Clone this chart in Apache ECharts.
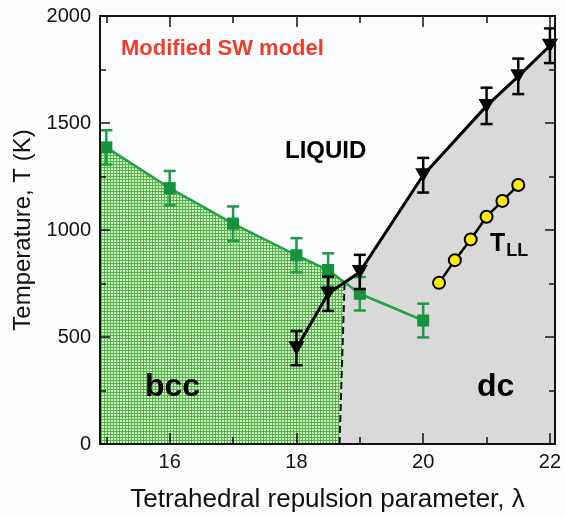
<!DOCTYPE html>
<html>
<head>
<meta charset="utf-8">
<script src="https://cdn.jsdelivr.net/npm/echarts@6/dist/echarts.min.js"></script>
<style>
html,body{margin:0;padding:0;background:#fbfcfd;}
#chart{width:565px;height:518px;}
</style>
</head>
<body>
<div id="chart"></div>
<script>
// ---- data ----
const xMajorTicks = [16, 18, 20, 22];
const xMinorTicks = [15, 17, 19, 21];
const bccX = [15, 16, 17, 18, 18.5, 19, 20];
const bccT = [1386, 1196, 1030, 882, 813, 702, 577];
const bccErr = [80, 80, 80, 80, 78, 78, 79];
const dcX = [18, 18.5, 19, 20, 21, 21.5, 22];
const dcT = [448, 702, 804, 1256, 1580, 1718, 1861];
const dcErr = [80, 80, 80, 81, 85, 83, 81];
const tllX = [20.25, 20.5, 20.75, 21, 21.25, 21.5];
const tllT = [753, 859, 956, 1062, 1136, 1210];
const dashX = [18.68, 18.76];
const dashT = [0, 760];
const bccRegion = [[14.9, 1405], [15, 1386], [16, 1196], [17, 1030], [18, 882], [18.5, 813], [18.76, 760], [18.68, 0], [14.9, 0]];
const dcRegion = [[18.68, 0], [18.76, 760], [19, 804], [20, 1256], [21, 1580], [21.5, 1718], [22, 1861], [22.08, 1875], [22.08, 0]];

const X_MIN = 14.9, X_MAX = 22.08;
const FONT = '"Liberation Sans", Arial, Helvetica, sans-serif';

// checker pattern for bcc region
const pc = document.createElement('canvas');
pc.width = 3; pc.height = 3;
const pctx = pc.getContext('2d');
pctx.fillStyle = '#52b64e'; pctx.fillRect(0, 0, 3, 3);
pctx.fillStyle = '#d6efc2'; pctx.fillRect(0, 0, 2, 2);
const checker = { image: pc, repeat: 'repeat' };

const chart = echarts.init(document.getElementById('chart'), null, { renderer: 'canvas' });

function xAxisDef(pos, ticks, len, withLabel) {
  return {
    type: 'value', min: X_MIN, max: X_MAX, position: pos, z: 30,
    axisLine: { show: true, onZero: false, lineStyle: { color: '#111', width: 2 } },
    axisTick: { show: true, inside: true, length: len, customValues: ticks, lineStyle: { color: '#111', width: 1.5 } },
    axisLabel: withLabel ? { show: true, customValues: ticks, fontSize: 20, color: '#111', margin: 8, fontFamily: FONT } : { show: false },
    splitLine: { show: false }
  };
}
function yAxisDef(pos, withLabel) {
  return {
    type: 'value', min: 0, max: 2000, interval: 500, position: pos, z: 30,
    axisLine: { show: true, onZero: false, lineStyle: { color: '#111', width: 2 } },
    axisTick: { show: true, inside: true, length: 10, lineStyle: { color: '#111', width: 1.5 } },
    minorTick: { show: true, splitNumber: 2, length: 6, lineStyle: { color: '#111', width: 1.5 } },
    axisLabel: withLabel ? { show: true, fontSize: 20, color: '#111', margin: 9, fontFamily: FONT, formatter: v => String(v) } : { show: false },
    splitLine: { show: false }, minorSplitLine: { show: false }
  };
}

const xb = xAxisDef('bottom', xMajorTicks, 11, true);
xb.name = 'Tetrahedral repulsion parameter, \u03bb';
xb.nameLocation = 'middle';
xb.nameGap = 43;
xb.nameTextStyle = { fontSize: 26, color: '#111', fontFamily: FONT };
const yl = yAxisDef('left', true);
yl.name = 'Temperature, T (K)';
yl.nameLocation = 'middle';
yl.nameGap = 57;
yl.nameTextStyle = { fontSize: 24, color: '#111', fontFamily: FONT };

function errBars(xs, ts, es) {
  return xs.map((x, i) => [x, ts[i] - es[i], ts[i] + es[i]]);
}
function errRender(color) {
  return function (params, api) {
    const x = api.value(0);
    const lo = api.coord([x, api.value(1)]);
    const hi = api.coord([x, api.value(2)]);
    const w = 6;
    const st = { stroke: color, lineWidth: 2.5 };
    return {
      type: 'group', children: [
        { type: 'line', shape: { x1: lo[0], y1: lo[1], x2: hi[0], y2: hi[1] }, style: st },
        { type: 'line', shape: { x1: lo[0] - w, y1: lo[1], x2: lo[0] + w, y2: lo[1] }, style: st },
        { type: 'line', shape: { x1: hi[0] - w, y1: hi[1], x2: hi[0] + w, y2: hi[1] }, style: st }
      ]
    };
  };
}
function regionRender(pts, fill) {
  return function (params, api) {
    return { type: 'polygon', shape: { points: pts.map(p => api.coord(p)) }, style: { fill: fill } };
  };
}
const zip = (a, b) => a.map((v, i) => [v, b[i]]);

chart.setOption({
  backgroundColor: '#fbfcfd',
  animation: false,
  grid: { left: 100, right: 10, top: 16, bottom: 69, containLabel: false },
  xAxis: [xb, xAxisDef('top', xMajorTicks, 11, false), xAxisDef('bottom', xMinorTicks, 7, false), xAxisDef('top', xMinorTicks, 7, false)],
  yAxis: [yl, yAxisDef('right', false)],
  series: [
    { type: 'custom', name: 'dc region', clip: true, z: 1, data: [dcRegion[0]], renderItem: regionRender(dcRegion, '#d9d9d9') },
    { type: 'custom', name: 'bcc region', clip: true, z: 1, data: [bccRegion[0]], renderItem: regionRender(bccRegion, checker) },
    { type: 'line', name: 'boundary', z: 2, data: zip(dashX, dashT), symbol: 'none', lineStyle: { color: '#111', width: 2, type: [7, 4] } },
    { type: 'line', name: 'bcc line', z: 3, data: zip(bccX, bccT), symbol: 'none', lineStyle: { color: '#24a049', width: 2.5 } },
    { type: 'custom', name: 'bcc err', z: 4, data: errBars(bccX, bccT, bccErr), renderItem: errRender('#1f9a45'), encode: { x: 0, y: [1, 2] } },
    { type: 'line', name: 'bcc pts', z: 5, data: zip(bccX, bccT), symbol: 'rect', symbolSize: 12, lineStyle: { width: 0, opacity: 0 }, itemStyle: { color: '#15913f' } },
    { type: 'line', name: 'dc line', z: 6, data: zip(dcX, dcT), symbol: 'none', lineStyle: { color: '#000', width: 3 } },
    { type: 'custom', name: 'dc err', z: 7, data: errBars(dcX, dcT, dcErr), renderItem: errRender('#000'), encode: { x: 0, y: [1, 2] } },
    { type: 'line', name: 'dc pts', z: 8, data: zip(dcX, dcT), symbol: 'triangle', symbolRotate: 180, symbolSize: [16, 14], lineStyle: { width: 0, opacity: 0 }, itemStyle: { color: '#000' } },
    { type: 'line', name: 'TLL', z: 9, data: zip(tllX, tllT), symbol: 'circle', symbolSize: 12, lineStyle: { color: '#000', width: 2.5 }, itemStyle: { color: '#ffec00', borderColor: '#000', borderWidth: 2 } }
  ],
  graphic: [
    { type: 'text', left: 121, top: 38, z: 100, style: { text: 'Modified SW model', fill: '#f03c2b', font: 'bold 22px ' + FONT } },
    { type: 'text', left: 285, top: 139, z: 100, style: { text: 'LIQUID', fill: '#000', font: 'bold 24px ' + FONT } },
    { type: 'text', left: 145, top: 371, z: 100, style: { text: 'bcc', fill: '#000', font: 'bold 32px ' + FONT } },
    { type: 'text', left: 477, top: 371, z: 100, style: { text: 'dc', fill: '#000', font: 'bold 32px ' + FONT } },
    { type: 'text', left: 490, top: 232, z: 100, style: {
        text: '{t|T}{s|LL}', fill: '#000',
        rich: { t: { font: 'bold 25px ' + FONT, fill: '#000' }, s: { font: 'bold 18px ' + FONT, fill: '#000', padding: [14, 0, 0, 1] } }
      } }
  ]
});
</script>
</body>
</html>
